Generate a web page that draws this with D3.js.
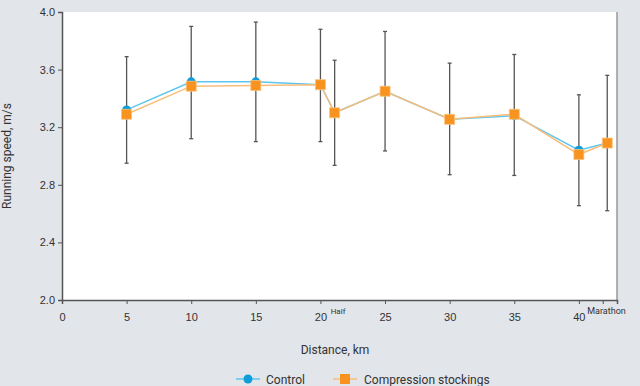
<!DOCTYPE html>
<html>
<head>
<meta charset="utf-8">
<script src="https://cdn.jsdelivr.net/npm/d3@7"></script>
<style>
  body { margin: 0; background: #e2e5e9; }
  svg { display: block; font-family: "Liberation Sans Narrow", "Roboto", sans-serif; }
  .tick text { fill: #333; font-size: 11px; }
  .axis path, .axis line { stroke: #555; }
</style>
</head>
<body>
<div id="chart"></div>
<script>
// values
var distances = [5, 10, 15, 20, 21.1, 25, 30, 35, 40, 42.195];
var controlSpeed = [3.32, 3.515, 3.515, 3.495, 3.30, 3.45, 3.255, 3.28, 3.04, 3.09];
var stockingSpeed = [3.29, 3.485, 3.49, 3.495, 3.30, 3.45, 3.255, 3.29, 3.01, 3.09];
var errHigh = [3.69, 3.90, 3.93, 3.88, 3.665, 3.865, 3.645, 3.705, 3.425, 3.56];
var errLow = [2.95, 3.12, 3.10, 3.10, 2.935, 3.035, 2.87, 2.865, 2.655, 2.62];
var xTicks = [0, 5, 10, 15, 20, 25, 30, 35, 40];
var yTicks = [2.0, 2.4, 2.8, 3.2, 3.6, 4.0];
var extraLabels = [{ km: 21.1, text: 'Half' }, { km: 42.195, text: 'Marathon' }];

var svgWidth = 640;
var svgHeight = 386;
var plotLeft = 62, plotRight = 617, plotTop = 12, plotBottom = 300;

var svg = d3.select('#chart')
  .append('svg')
  .attr('width', svgWidth)
  .attr('height', svgHeight);

var x = d3.scaleLinear().domain([0, 42.95]).range([plotLeft, plotRight]);
var y = d3.scaleLinear().domain([2, 4]).range([plotBottom, plotTop]);

// white plot area
svg.append('rect')
  .attr('x', plotLeft).attr('y', plotTop)
  .attr('width', plotRight - plotLeft).attr('height', plotBottom - plotTop)
  .attr('fill', '#fff');

svg.append('line')
  .attr('x1', plotRight).attr('x2', plotRight)
  .attr('y1', plotTop).attr('y2', plotBottom)
  .attr('stroke', '#999').attr('stroke-width', 1.5);

// axes
svg.append('g')
  .attr('class', 'axis')
  .attr('transform', 'translate(0,' + plotBottom + ')')
  .call(d3.axisBottom(x).tickValues(xTicks).tickSize(4).tickPadding(9).tickFormat(d3.format('d')))
  .call(function(g) { g.select('.domain').attr('stroke-width', 1.5); });

svg.append('g')
  .attr('class', 'axis')
  .attr('transform', 'translate(' + plotLeft + ',0)')
  .call(d3.axisLeft(y).tickValues(yTicks).tickSize(4).tickPadding(3).tickFormat(d3.format('.1f')))
  .call(function(g) { g.select('.domain').attr('stroke-width', 1.5); });

// Half / Marathon labels
svg.selectAll('.extra')
  .data(extraLabels)
  .enter().append('text')
  .attr('class', 'extra')
  .attr('x', function(d) { return d.text === 'Half' ? x(d.km) - 4 : x(d.km) - 20; })
  .attr('y', plotBottom + 14)
  .attr('font-size', function(d) { return d.text === 'Half' ? 8 : 9; })
  .attr('fill', '#333')
  .text(function(d) { return d.text; });

svg.selectAll('.marTick')
  .data(extraLabels.slice(1))
  .enter().append('line')
  .attr('x1', function(d) { return x(d.km) - 4; })
  .attr('x2', function(d) { return x(d.km) - 4; })
  .attr('y1', plotBottom).attr('y2', plotBottom + 4)
  .attr('stroke', '#555');

// error bars
var errs = distances.map(function(d, i) { return { km: d, lo: errLow[i], hi: errHigh[i] }; });
var eb = svg.append('g').attr('stroke', '#555').attr('stroke-width', 1.3);
eb.selectAll('.bar').data(errs).enter().append('line')
  .attr('x1', function(d) { return x(d.km); })
  .attr('x2', function(d) { return x(d.km); })
  .attr('y1', function(d) { return y(d.lo); })
  .attr('y2', function(d) { return y(d.hi); });
eb.selectAll('.capHi').data(errs).enter().append('line')
  .attr('x1', function(d) { return x(d.km) - 2; })
  .attr('x2', function(d) { return x(d.km) + 2; })
  .attr('y1', function(d) { return y(d.hi); })
  .attr('y2', function(d) { return y(d.hi); });
eb.selectAll('.capLo').data(errs).enter().append('line')
  .attr('x1', function(d) { return x(d.km) - 2; })
  .attr('x2', function(d) { return x(d.km) + 2; })
  .attr('y1', function(d) { return y(d.lo); })
  .attr('y2', function(d) { return y(d.lo); });

// lines
var line = d3.line()
  .x(function(d) { return x(d[0]); })
  .y(function(d) { return y(d[1]); });

var controlPts = d3.zip(distances, controlSpeed);
var stockingPts = d3.zip(distances, stockingSpeed);

svg.append('path')
  .datum(controlPts)
  .attr('d', line)
  .attr('fill', 'none')
  .attr('stroke', '#5cc6ef')
  .attr('stroke-width', 1.5);

svg.selectAll('.ctrl')
  .data(controlPts)
  .enter().append('circle')
  .attr('cx', function(d) { return x(d[0]); })
  .attr('cy', function(d) { return y(d[1]); })
  .attr('r', 4.5)
  .attr('fill', '#0d9ddb');

svg.append('path')
  .datum(stockingPts)
  .attr('d', line)
  .attr('fill', 'none')
  .attr('stroke', '#f9bd7a')
  .attr('stroke-width', 1.5);

svg.selectAll('.stock')
  .data(stockingPts)
  .enter().append('rect')
  .attr('x', function(d) { return x(d[0]) - 5; })
  .attr('y', function(d) { return y(d[1]) - 5; })
  .attr('width', 10)
  .attr('height', 10)
  .attr('fill', '#f7931e')
  .attr('stroke', '#fbc27f')
  .attr('stroke-width', 0.8);

// axis titles
svg.append('text')
  .attr('transform', 'translate(11,' + ((plotTop + plotBottom) / 2) + ') rotate(-90)')
  .attr('text-anchor', 'middle')
  .attr('font-size', 12)
  .attr('fill', '#333')
  .text('Running speed, m/s');

svg.append('text')
  .attr('x', 335)
  .attr('y', 354)
  .attr('text-anchor', 'middle')
  .attr('font-size', 12)
  .attr('fill', '#333')
  .text('Distance, km');

// legend
var legend = svg.append('g').attr('transform', 'translate(0,379)');
legend.append('line').attr('x1', 236).attr('x2', 260).attr('stroke', '#5cc6ef').attr('stroke-width', 1.5);
legend.append('circle').attr('cx', 248).attr('r', 4.5).attr('fill', '#0d9ddb');
legend.append('text').attr('x', 266).attr('y', 4.5).attr('font-size', 12).attr('fill', '#333').text('Control');
legend.append('line').attr('x1', 333).attr('x2', 357).attr('stroke', '#f9bd7a').attr('stroke-width', 1.5);
legend.append('rect').attr('x', 340).attr('y', -5).attr('width', 10).attr('height', 10).attr('fill', '#f7931e');
legend.append('text').attr('x', 364).attr('y', 4.5).attr('font-size', 12).attr('fill', '#333').text('Compression stockings');
</script>
</body>
</html>
